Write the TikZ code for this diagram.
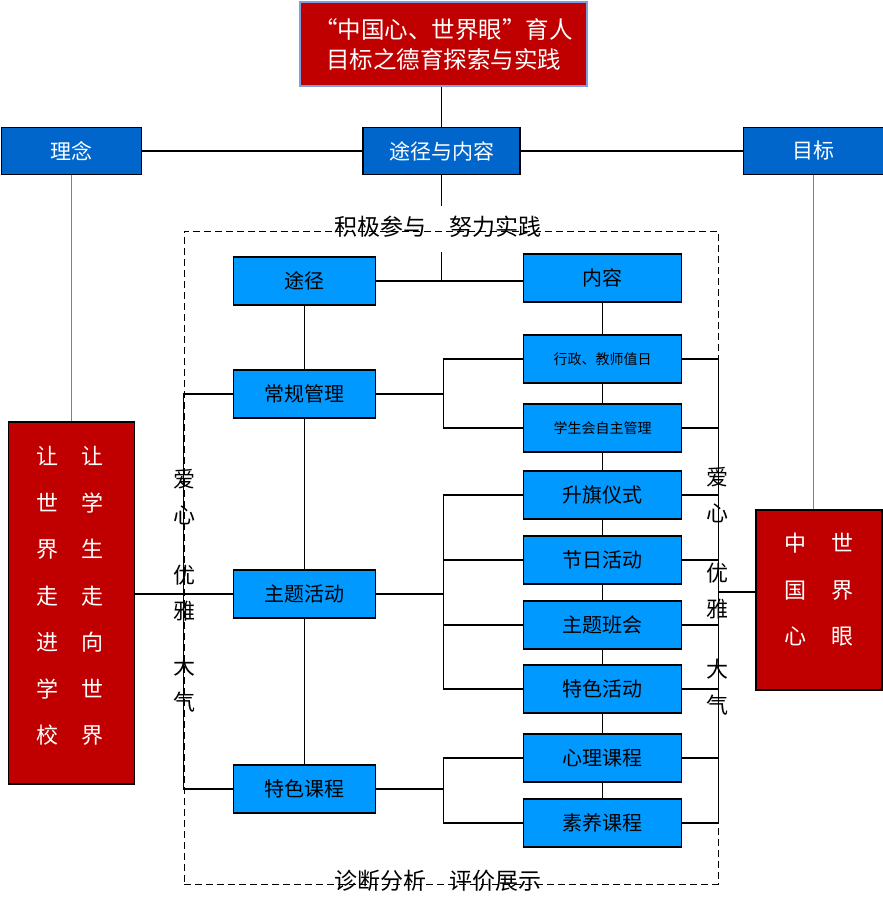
\documentclass[tikz,border=0pt]{standalone}
\usepackage{fontspec}
\setmainfont{Noto Sans CJK SC}
\usetikzlibrary{calc}
\definecolor{topblue}{HTML}{0066CC}
\definecolor{boxblue}{HTML}{0099FF}
\definecolor{darkred}{HTML}{C00000}
\definecolor{titleedge}{HTML}{7F9FDF}

\begin{document}
\begin{tikzpicture}[
    x=1pt, y=-1pt,
    line width=1.3pt,
    headbox/.style={draw, fill=topblue, text=white, minimum width=140pt, minimum height=47pt, inner sep=0pt, font=\fontsize{21}{24}\selectfont},
    redbox/.style={draw, fill=darkred, inner sep=0pt},
    redtxt/.style={text=white, align=center, font=\fontsize{22}{46.5}\selectfont},
    waybox/.style={draw, fill=boxblue, minimum width=142pt, minimum height=48pt, inner sep=0pt, font=\fontsize{20}{22}\selectfont},
    partbox/.style={waybox, minimum width=158pt},
    smalltxt/.style={font=\fontsize{14}{16}\selectfont},
    vtext/.style={align=center, font=\fontsize{22}{36}\selectfont},
]
\useasboundingbox (0,0) rectangle (883,905);

% title and first level
\node[draw=titleedge, fill=darkred, text=white, minimum width=287pt, minimum height=84pt, align=center, font=\fontsize{23.5}{30}\selectfont] (title) at (443.5,44) {“中国心、世界眼”育人\\目标之德育探索与实践};
\node[headbox] (idea) at (71.5,151) {理念};
\node[headbox, minimum width=157pt] (way) at (441.5,151) {途径与内容};
\node[headbox] (goal) at (813.5,151) {目标};

% red side boxes
\node[redbox, minimum width=126pt, minimum height=362pt] (lbox) at (71.5,603) {};
\node[redtxt] (ltxt) at (70,596) {让\hspace{24pt}让\\世\hspace{24pt}学\\界\hspace{24pt}生\\走\hspace{24pt}走\\进\hspace{24pt}向\\学\hspace{24pt}世\\校\hspace{24pt}界};
\node[redbox, minimum width=126pt, minimum height=180pt] (gbox) at (819,600) {};
\node[redtxt] (gtxt) at (818.5,590) {中\hspace{25pt}世\\国\hspace{25pt}界\\心\hspace{25pt}眼};

% dashed frame
\node[draw, dash pattern=on 7pt off 4pt, line width=1pt, minimum width=534pt, minimum height=653pt, inner sep=0pt] (frame) at (451,557.5) {};
\node[font=\fontsize{23}{26}\selectfont] (toplabel) at (438,227) {积极参与\hspace{1em}努力实践};
\node[font=\fontsize{23}{26}\selectfont] (botlabel) at (438,881) {诊断分析\hspace{1em}评价展示};

% left column
\node[waybox] (route) at (304.5,281) {途径};
\node[waybox] (routine) at (304.5,394) {常规管理};
\node[waybox] (theme) at (304.5,594) {主题活动};
\node[waybox] (course) at (304.5,789) {特色课程};

% right column
\node[partbox] (content) at (602.5,278) {内容};
\node[partbox, smalltxt] (r1) at (602.5,359) {行政、教师值日};
\node[partbox, smalltxt] (r2) at (602.5,428) {学生会自主管理};
\foreach \n/\y/\t in {3/495/升旗仪式, 4/560/节日活动, 5/625/主题班会, 6/689/特色活动, 7/758/心理课程, 8/823/素养课程}
    \node[partbox] (r\n) at (602.5,\y) {\t};

% vertical words
\node[vtext] (lwords) at (184,591) {爱\\心\\[24pt]优\\雅\\[19pt]大\\气};
\node[vtext] (rwords) at (717,591) {爱\\心\\[24pt]优\\雅\\[24pt]大\\气};

% connectors
\draw (way.north |- title.south) -- (way.north);
\draw (idea.east) -- (way.west);
\draw (way.east) -- (goal.west);
\draw[gray] (idea.south) -- (lbox.north);
\draw[gray] (goal.south) -- (goal.south |- gbox.north);
\draw (way.south) -- ++(0,31);
\draw (route.east) -- (content.west |- route.east);
\draw (route.east -| way.south) -- ++(0,-29);

\draw (route.south) -- (routine.north);
\draw (routine.south) -- (theme.north);
\draw (theme.south) -- (course.north);
\draw (content.south) -- (r1.north);
\foreach \a/\b in {1/2, 2/3, 3/4, 4/5, 5/6, 6/7, 7/8}
    \draw (r\a.south) -- (r\b.north);

\coordinate (spine) at (443.5,0);
\draw (routine.east) -- (routine.east -| spine);
\draw (r1.west) -| (spine |- r2.west) -- (r2.west);
\draw (theme.east) -- (theme.east -| spine);
\draw (r3.west) -| (spine |- r6.west) -- (r6.west);
\draw (r4.west) -- (r4.west -| spine);
\draw (r5.west) -- (r5.west -| spine);
\draw (course.east) -- (course.east -| spine);
\draw (r7.west) -| (spine |- r8.west) -- (r8.west);

\draw (routine.west) -| (frame.west |- course.west) -- (course.west);
\draw (theme.west -| lbox.east) -- (theme.west);
\draw (r1.east) -| (frame.east |- r8.east) -- (r8.east);
\foreach \n in {2,...,7}
    \draw (r\n.east) -- (r\n.east -| frame.east);
\draw ($(gbox.west)+(0,-8)$) coordinate (gin) -- (gin -| frame.east);

\end{tikzpicture}
\end{document}
